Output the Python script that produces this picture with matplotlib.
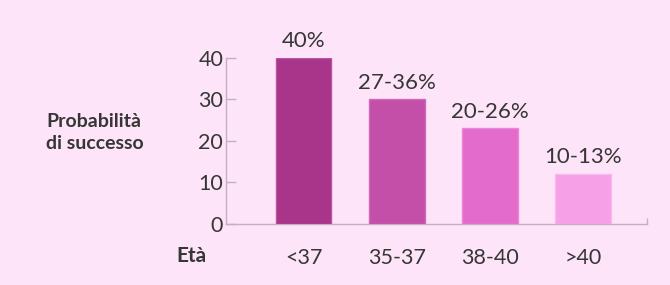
import matplotlib
matplotlib.use("Agg")
import matplotlib.pyplot as plt

categories = ["<37", "35-37", "38-40", ">40"]
values = [40, 30, 23, 12]
labels = ["40%", "27-36%", "20-26%", "10-13%"]
yticks = [0, 10, 20, 30, 40]
colors = ["#a8358a", "#c34fa8", "#e36bcb", "#f5a0e7"]
edges = ["#b7549c", "#d06ab8", "#ec86d6", "#f9b8ee"]

bg = "#fde4f8"
txt = "#363636"
axc = "#c3b1c2"

plt.rcParams['font.family'] = ['Lato', 'DejaVu Sans']

fig = plt.figure(figsize=(6.7, 2.85), dpi=100, facecolor=bg)
ax = fig.add_axes([226/670, 1-224/285, (647-226)/670, (224-57.7)/285])
ax.set_facecolor(bg)

x = list(range(len(categories)))
ax.bar(x, values, width=0.6, color=colors, edgecolor=edges, linewidth=1, zorder=3)
for xi, v, l in zip(x, values, labels):
    ax.text(xi, v + 1.6, l, ha="center", va="bottom", fontsize=16, color=txt, clip_on=False)

ax.set_xlim(-0.833, 3.69)
ax.set_ylim(0, 40)
ax.set_yticks(yticks)
ax.set_xticks(x)
ax.set_xticklabels(categories)
ax.tick_params(axis="x", length=0, pad=17, labelsize=15.5, colors=txt)
ax.tick_params(axis="y", direction="in", length=7, width=1, color=axc, pad=2, labelsize=15.5, labelcolor=txt)
ax.set_xticks([3.69], minor=True)
ax.tick_params(axis="x", which="minor", direction="in", length=4, width=1, color=axc)

for s in ["top", "right"]:
    ax.spines[s].set_visible(False)
for s in ["left", "bottom"]:
    ax.spines[s].set_color(axc)
    ax.spines[s].set_linewidth(1)

fig.text(46/670, 1-132.5/285, "Probabilità\ndi successo", ha="left", va="center",
         fontsize=14, fontweight="bold", color=txt, linespacing=1.3)
fig.text(206/670, 1-256/285, "Età", ha="right", va="center",
         fontsize=15, fontweight="bold", color=txt)

fig.savefig("out.png", dpi=100, facecolor=bg)
